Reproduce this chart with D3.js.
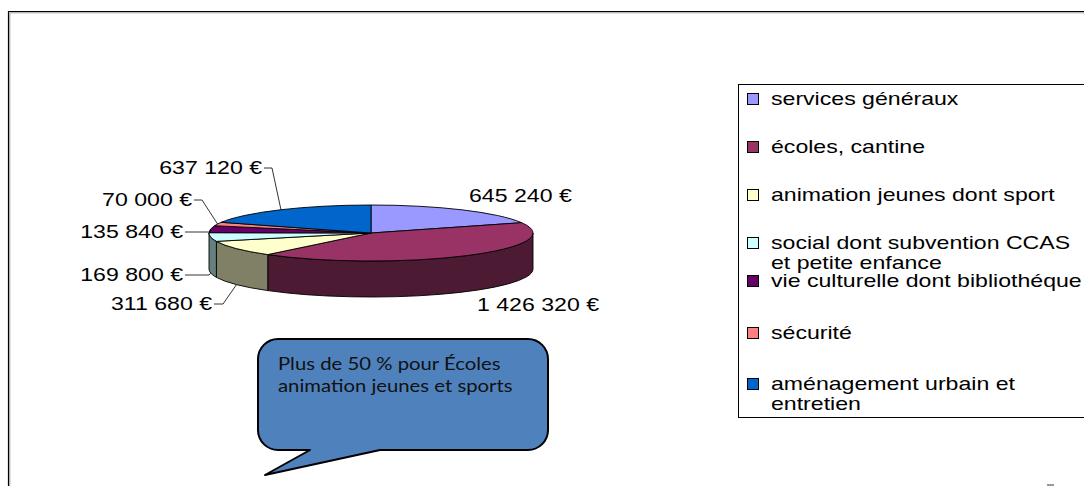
<!DOCTYPE html>
<html><head><meta charset="utf-8">
<script src="https://cdn.jsdelivr.net/npm/d3@7"></script>
<style>body{margin:0;background:#fff;} svg{display:block;}</style>
</head><body>
<svg id="c" width="1084" height="486"></svg>
<script>
// ---- data ----
const categories = ["services généraux","écoles, cantine","animation jeunes dont sport","social dont subvention CCAS et petite enfance","vie culturelle dont bibliothéque","sécurité","aménagement urbain et entretien"];
const legendLines = [["services généraux"],["écoles, cantine"],["animation jeunes dont sport"],["social dont subvention CCAS","et petite enfance"],["vie culturelle dont bibliothéque"],["sécurité"],["aménagement urbain et","entretien"]];
const values = [645240,1426320,311680,169800,135840,70000,637120];
const colors = ["#9999FF","#993366","#FFFFCC","#CCFFFF","#660066","#FF8080","#0066CC"];
const calloutLines = ["Plus de 50 % pour Écoles","animation jeunes et sports"];

// ---- layout ----
const svg = d3.select("#c");
const FONT = "'Liberation Sans', Arial, sans-serif";
const FS = 17.5, SX = 1.32;
const cx = 371, cy = 233, rx = 162, ry = 28, depth = 36;

const loc = d3.formatLocale({decimal:",", thousands:"\u00a0", grouping:[3], currency:["","\u00a0€"]});
const fmt = v => loc.format("$,")(v).replace(/\u00a0/g," ");

// frame
svg.append("path").attr("d","M8.5,486 V11.5 H1084").attr("fill","none").attr("stroke","#000").attr("stroke-width",1.2);
svg.append("path").attr("d","M9.8,486 V12.8 H1084").attr("fill","none").attr("stroke","#9a9a9a").attr("stroke-width",1);
svg.append("rect").attr("x",1047).attr("y",484).attr("width",7).attr("height",2).attr("fill","#999");

const pie = d3.pie().sort(null).startAngle(0).endAngle(2*Math.PI);
const arcs = pie(values);
const P = (t, dz=0) => [cx + rx*Math.sin(t), cy - ry*Math.cos(t) + dz];
const darker = c => { const k = d3.rgb(c); return d3.rgb(k.r*0.5, k.g*0.5, k.b*0.5).toString(); };

const g = svg.append("g");
// side walls
arcs.forEach((a,i) => {
  const s = Math.max(a.startAngle, Math.PI/2), e = Math.min(a.endAngle, 3*Math.PI/2);
  if (e <= s) return;
  const p0 = P(s), p1 = P(e), q1 = P(e, depth), q0 = P(s, depth);
  g.append("path")
    .attr("d", `M${p0}A${rx},${ry} 0 0 1 ${p1}L${q1}A${rx},${ry} 0 0 0 ${q0}Z`)
    .attr("fill", darker(colors[i])).attr("stroke","#000").attr("stroke-width",0.9).attr("stroke-linejoin","round");
});
// top faces
arcs.forEach((a,i) => {
  const p0 = P(a.startAngle), p1 = P(a.endAngle);
  const large = (a.endAngle - a.startAngle) > Math.PI ? 1 : 0;
  g.append("path")
    .attr("d", `M${cx},${cy}L${p0}A${rx},${ry} 0 ${large} 1 ${p1}Z`)
    .attr("fill", colors[i]).attr("stroke","#000").attr("stroke-width",0.9).attr("stroke-linejoin","round");
});

// labels
const labelLayout = [
  {x:469, y:196, anchor:"start"},
  {x:477, y:305, anchor:"start"},
  {x:212, y:304, anchor:"end", elbow:223},
  {x:183, y:275, anchor:"end", elbow:209},
  {x:183, y:232, anchor:"end", elbow:210},
  {x:192, y:200, anchor:"end", elbow:202},
  {x:262, y:168, anchor:"end", elbow:272}
];
function stext(parent, x, y, str, anchor, opts={}) {
  return parent.append("text")
    .attr("transform", `translate(${x},${y}) scale(${opts.sx||SX},1)`)
    .attr("dy","0.35em").attr("text-anchor", anchor)
    .attr("font-family", opts.font||FONT).attr("font-size", opts.fs||FS)
    .attr("fill", opts.fill||"#000").text(str);
}
arcs.forEach((a,i) => {
  const L = labelLayout[i];
  stext(svg, L.x, L.y, fmt(values[i]), L.anchor);
  if (L.elbow !== undefined) {
    const mid = (a.startAngle + a.endAngle)/2;
    const end = P(mid, Math.cos(mid) < 0 ? depth : 0);
    svg.append("path").attr("d", `M${L.x+2},${L.y}H${L.elbow}L${end}`)
      .attr("fill","none").attr("stroke","#000").attr("stroke-width",0.8);
  }
});

// legend
const lg = svg.append("g");
lg.append("rect").attr("x",738.5).attr("y",84.5).attr("width",400).attr("height",333)
  .attr("fill","#fff").attr("stroke","#000").attr("stroke-width",1);
const legendY = [99, 147, 195, 243, 281, 333, 384];
const lineH = 19.5;
legendLines.forEach((lines,i) => {
  lg.append("rect").attr("x",747.5).attr("y",legendY[i]-5.5).attr("width",11).attr("height",11)
    .attr("fill",colors[i]).attr("stroke","#000").attr("stroke-width",1);
  lines.forEach((t,j) => stext(lg, 771, legendY[i] + j*lineH, t, "start"));
});

// callout
const cb = svg.append("g");
const x0=258, y0=339, x1=548, y1=450, r=20;
cb.append("path")
  .attr("d", `M${x0+r},${y0}H${x1-r}A${r},${r} 0 0 1 ${x1},${y0+r}V${y1-r}A${r},${r} 0 0 1 ${x1-r},${y1}H380L265,475L310,${y1}H${x0+r}A${r},${r} 0 0 1 ${x0},${y1-r}V${y0+r}A${r},${r} 0 0 1 ${x0+r},${y0}Z`)
  .attr("fill","#4F81BD").attr("stroke","#000").attr("stroke-width",2).attr("stroke-linejoin","round");
calloutLines.forEach((t,j) => stext(cb, 278, 364 + j*22, t, "start", {font:"Lato, 'Open Sans', sans-serif", fs:17.5, sx:1.16, fill:"#111"}));
</script>
</body></html>
